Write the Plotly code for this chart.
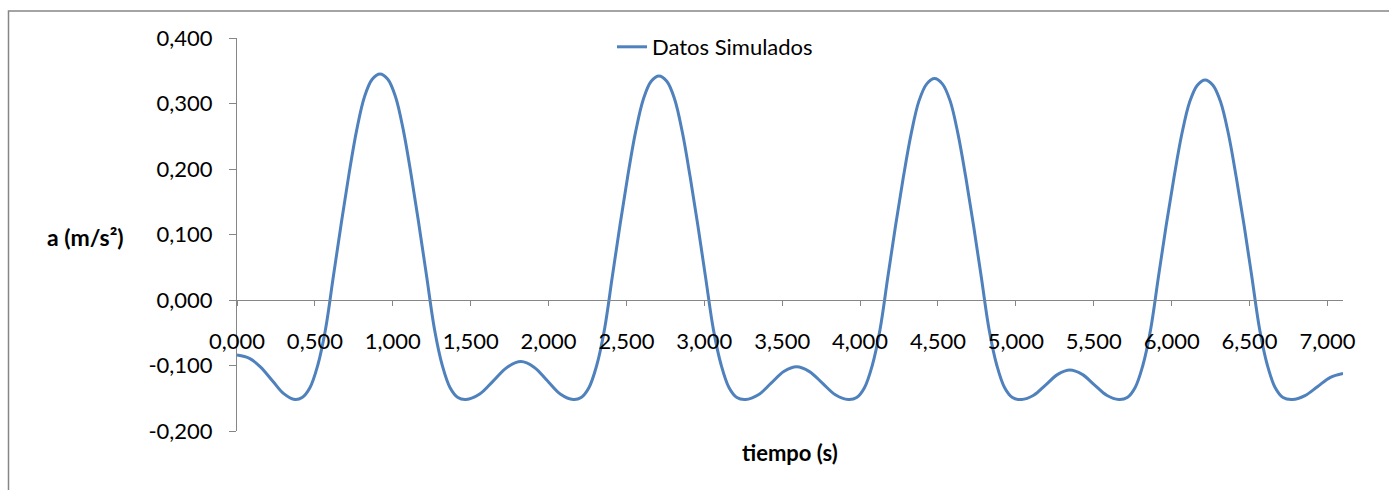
import plotly.graph_objects as go

# tiempo (s)
t_s = [
    0.000, 0.080, 0.150, 0.230, 0.300, 0.372,
    0.418, 0.468, 0.518, 0.568, 0.618, 0.668, 0.718, 0.768, 0.818, 0.868, 0.918,
    0.968, 1.018, 1.068, 1.118, 1.168, 1.218, 1.268, 1.318, 1.368, 1.418, 1.470,
    1.558, 1.647, 1.735, 1.823, 1.907, 1.991, 2.075, 2.159,
    2.209, 2.259, 2.309, 2.359, 2.409, 2.459, 2.509, 2.559, 2.609, 2.659, 2.709,
    2.759, 2.809, 2.859, 2.909, 2.959, 3.009, 3.059, 3.109, 3.159, 3.209, 3.265,
    3.347, 3.429, 3.510, 3.592, 3.675, 3.758, 3.841, 3.924,
    3.978, 4.028, 4.078, 4.128, 4.178, 4.228, 4.278, 4.328, 4.378, 4.428, 4.478,
    4.528, 4.578, 4.628, 4.678, 4.728, 4.778, 4.828, 4.878, 4.928, 4.978, 5.036,
    5.114, 5.192, 5.269, 5.347, 5.426, 5.504, 5.583, 5.661,
    5.715, 5.765, 5.815, 5.865, 5.915, 5.965, 6.015, 6.065, 6.115, 6.165, 6.215,
    6.265, 6.315, 6.365, 6.415, 6.465, 6.515, 6.565, 6.615, 6.665, 6.715, 6.775,
    6.856, 6.938, 7.019, 7.100,
]

# a (m/s2) - Datos Simulados
a_ms2 = [
    -0.084, -0.089, -0.102, -0.124, -0.143, -0.152,
    -0.149, -0.134, -0.100, -0.045, 0.035, 0.115, 0.191, 0.259, 0.310, 0.337, 0.345,
    0.337, 0.310, 0.259, 0.191, 0.115, 0.035, -0.045, -0.100, -0.134, -0.149, -0.152,
    -0.1435, -0.123, -0.1025, -0.094, -0.1025, -0.123, -0.1435, -0.152,
    -0.149, -0.134, -0.100, -0.045, 0.035, 0.115, 0.190, 0.257, 0.307, 0.334, 0.342,
    0.334, 0.307, 0.256, 0.188, 0.113, 0.033, -0.046, -0.100, -0.134, -0.149, -0.152,
    -0.1447, -0.127, -0.1093, -0.102, -0.1093, -0.127, -0.1447, -0.152,
    -0.149, -0.134, -0.100, -0.045, 0.035, 0.114, 0.188, 0.254, 0.304, 0.330, 0.338,
    0.330, 0.304, 0.254, 0.188, 0.114, 0.035, -0.045, -0.100, -0.134, -0.149, -0.152,
    -0.1454, -0.1295, -0.1136, -0.107, -0.1136, -0.1295, -0.1454, -0.152,
    -0.149, -0.134, -0.100, -0.045, 0.035, 0.114, 0.187, 0.253, 0.302, 0.328, 0.336,
    0.328, 0.302, 0.253, 0.187, 0.114, 0.035, -0.045, -0.100, -0.134, -0.149, -0.152,
    -0.146, -0.132, -0.118, -0.112,
]

x_tickvals = [0.5 * i for i in range(15)]
x_ticktext = ["0,000", "0,500", "1,000", "1,500", "2,000", "2,500", "3,000", "3,500",
              "4,000", "4,500", "5,000", "5,500", "6,000", "6,500", "7,000"]
y_tickvals = [-0.2, -0.1, 0.0, 0.1, 0.2, 0.3, 0.4]
y_ticktext = ["-0,200", "-0,100", "0,000", "0,100", "0,200", "0,300", "0,400"]

FONT = "Lato"
AXIS_GRAY = "#868686"

fig = go.Figure()
fig.add_trace(go.Scatter(
    x=t_s, y=a_ms2, mode="lines", name="Datos Simulados",
    line=dict(color="#4F81BD", width=3, shape="spline", smoothing=1.0),
    cliponaxis=False,
))

W, H = 1389, 490
L, R, T, B = 237, 46, 38, 59
pw = W - L - R
ph = H - T - B


def px_x(px):
    return (px - L) / pw


def px_y(py):
    return (H - B - py) / ph


fig.update_layout(
    width=W, height=H,
    margin=dict(l=L, r=R, t=T, b=B, pad=0),
    paper_bgcolor="white", plot_bgcolor="white",
    font=dict(family=FONT, size=22, color="black"),
    showlegend=True,
    legend=dict(x=px_x(612), y=px_y(47), xanchor="left", yanchor="middle",
                font=dict(family=FONT, size=22, color="black"),
                bgcolor="rgba(0,0,0,0)", borderwidth=0),
    xaxis=dict(
        range=[0, 7.1], anchor="free", position=1/3,
        showline=True, linecolor=AXIS_GRAY, linewidth=1,
        showgrid=False, zeroline=False,
        ticks="outside", ticklen=5, tickcolor=AXIS_GRAY, tickwidth=1,
        tickvals=x_tickvals, ticktext=x_ticktext,
        ticklabelstandoff=17,
        tickfont=dict(family=FONT, size=22, color="black"),
    ),
    yaxis=dict(
        range=[-0.2, 0.4],
        showline=True, linecolor=AXIS_GRAY, linewidth=1,
        showgrid=False, zeroline=False,
        ticks="outside", ticklen=7, tickcolor=AXIS_GRAY, tickwidth=1,
        tickvals=y_tickvals, ticktext=y_ticktext,
        ticklabelstandoff=12,
        tickfont=dict(family=FONT, size=22, color="black"),
    ),
    shapes=[dict(type="rect", xref="paper", yref="paper",
                 x0=px_x(8.5), x1=px_x(1400), y0=px_y(500), y1=px_y(11),
                 line=dict(color=AXIS_GRAY, width=1.5), fillcolor="rgba(0,0,0,0)",
                 layer="below")],
    annotations=[
        dict(text="<b>a (m/s²)</b>", xref="paper", yref="paper",
             x=px_x(85), y=px_y(237), xanchor="center", yanchor="middle",
             showarrow=False, font=dict(family=FONT, size=23, color="black")),
        dict(text="<b>tiempo (s)</b>", xref="paper", yref="paper",
             x=px_x(790), y=px_y(452), xanchor="center", yanchor="middle",
             showarrow=False, font=dict(family=FONT, size=22, color="black")),
    ],
)

fig.write_html("out.html")
